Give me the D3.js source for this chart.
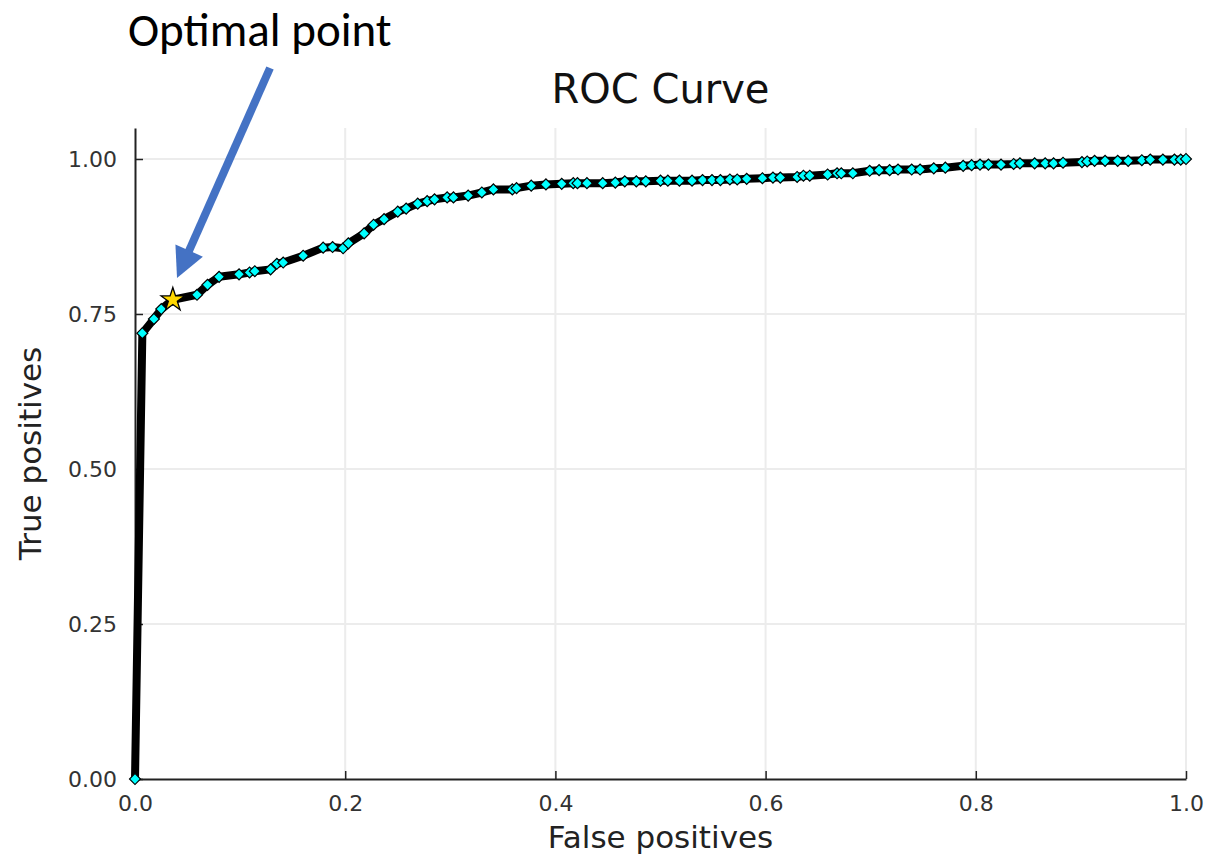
<html>
  <head>
    <title>ROC Curve</title>
    <script src="https://d3js.org/d3.v7.min.js"></script>
    <style>
      body { margin: 0; background: white; }
      svg { display: block; }
      .tick text { font-family: "DejaVu Sans", sans-serif; font-size: 22px; fill: #333; }
    </style>
  </head>
  <body>
    <svg width="1209" height="858"></svg>

    <script>
      // data
      var fpr = [0, 0.007, 0.018, 0.025, 0.036, 0.059, 0.069, 0.080, 0.099, 0.109, 0.114, 0.129, 0.135, 0.141,
        0.160, 0.179, 0.188, 0.198, 0.203, 0.218, 0.227, 0.237, 0.250, 0.258, 0.269, 0.278, 0.285, 0.297,
        0.303, 0.317, 0.330, 0.341, 0.359, 0.363, 0.377, 0.391, 0.406, 0.417, 0.421, 0.430, 0.445, 0.457,
        0.466, 0.477, 0.486, 0.500, 0.507, 0.518, 0.530, 0.540, 0.549, 0.557, 0.566, 0.573, 0.582, 0.597,
        0.607, 0.614, 0.630, 0.636, 0.642, 0.659, 0.668, 0.672, 0.683, 0.699, 0.708, 0.718, 0.726, 0.739,
        0.747, 0.760, 0.771, 0.788, 0.796, 0.804, 0.812, 0.824, 0.836, 0.842, 0.856, 0.866, 0.874, 0.883,
        0.901, 0.906, 0.913, 0.923, 0.935, 0.945, 0.958, 0.966, 0.978, 0.989, 0.995, 1.0];
      var tpr = [0, 0.719, 0.742, 0.758, 0.773, 0.781, 0.797, 0.810, 0.814, 0.817, 0.819, 0.822, 0.831, 0.833,
        0.844, 0.857, 0.858, 0.856, 0.864, 0.880, 0.894, 0.903, 0.915, 0.920, 0.928, 0.932, 0.935, 0.938,
        0.938, 0.941, 0.946, 0.951, 0.951, 0.953, 0.957, 0.959, 0.960, 0.961, 0.961, 0.961, 0.961, 0.962,
        0.964, 0.964, 0.964, 0.965, 0.965, 0.965, 0.965, 0.966, 0.966, 0.966, 0.967, 0.967, 0.968, 0.969,
        0.970, 0.970, 0.971, 0.973, 0.973, 0.975, 0.977, 0.977, 0.977, 0.981, 0.982, 0.982, 0.983, 0.983,
        0.983, 0.985, 0.986, 0.989, 0.990, 0.991, 0.991, 0.991, 0.992, 0.993, 0.993, 0.993, 0.993, 0.994,
        0.995, 0.996, 0.997, 0.997, 0.997, 0.997, 0.998, 0.999, 0.999, 0.999, 0.999, 1.0];
      var optimal = [0.036, 0.773];
      var xTicks = [0, 0.2, 0.4, 0.6, 0.8, 1.0];
      var yTicks = [0, 0.25, 0.5, 0.75, 1.0];

      var svg = d3.select("svg");
      var pLeft = 135, pRight = 1186, pTop = 128, pBottom = 779;

      var x = d3.scaleLinear().domain([0, 1]).range([pLeft, pRight]);
      var y = d3.scaleLinear().domain([0, 1.05]).range([pBottom, pTop]);

      // grid
      svg.append("g").selectAll("line").data(xTicks.slice(1)).enter().append("line")
        .attr("x1", d => x(d)).attr("x2", d => x(d))
        .attr("y1", pTop).attr("y2", pBottom)
        .attr("stroke", "#ececec").attr("stroke-width", 2);
      svg.append("g").selectAll("line").data(yTicks.slice(1)).enter().append("line")
        .attr("x1", pLeft).attr("x2", pRight)
        .attr("y1", d => y(d)).attr("y2", d => y(d))
        .attr("stroke", "#ececec").attr("stroke-width", 2);

      // axes (ticks point inward)
      var xAxis = d3.axisBottom(x).tickValues(xTicks).tickFormat(d3.format(".1f"))
        .tickSizeInner(-8).tickSizeOuter(0).tickPadding(16);
      var yAxis = d3.axisLeft(y).tickValues(yTicks).tickFormat(d3.format(".2f"))
        .tickSizeInner(-8).tickSizeOuter(0).tickPadding(18);

      var gx = svg.append("g").attr("transform", "translate(0," + pBottom + ")").call(xAxis);
      var gy = svg.append("g").attr("transform", "translate(" + pLeft + ",0)").call(yAxis);
      [gx, gy].forEach(function(g){
        g.attr("font-family", null).attr("font-size", null);
        g.select(".domain").attr("stroke", "#222").attr("stroke-width", 2);
        g.selectAll(".tick line").attr("stroke", "#222").attr("stroke-width", 1.5);
      });

      // curve
      var pts = fpr.map((d, i) => [d, tpr[i]]);
      var line = d3.line().x(d => x(d[0])).y(d => y(d[1]));
      svg.append("path").datum(pts).attr("d", line)
        .attr("fill", "none").attr("stroke", "#000").attr("stroke-width", 8)
        .attr("stroke-linejoin", "round");

      svg.append("g").selectAll("path").data(pts).enter().append("path")
        .attr("d", d3.symbol(d3.symbolSquare, 60))
        .attr("transform", d => "translate(" + x(d[0]) + "," + y(d[1]) + ") rotate(45)")
        .attr("fill", "#00ffff").attr("stroke", "#000").attr("stroke-width", 1.2);

      // optimal point star
      svg.append("path")
        .attr("d", d3.symbol(d3.symbolStar, 170))
        .attr("transform", "translate(" + x(optimal[0]) + "," + y(optimal[1]) + ")")
        .attr("fill", "#ffd700").attr("stroke", "#000").attr("stroke-width", 1.3);

      // title and labels
      svg.append("text").attr("x", (pLeft + pRight) / 2).attr("y", 103)
        .attr("text-anchor", "middle").attr("font-family", "DejaVu Sans")
        .attr("font-size", 40).attr("fill", "#111").text("ROC Curve");
      svg.append("text").attr("x", (pLeft + pRight) / 2).attr("y", 848)
        .attr("text-anchor", "middle").attr("font-family", "DejaVu Sans")
        .attr("font-size", 31).attr("fill", "#222").text("False positives");
      svg.append("text").attr("transform", "translate(41," + (pTop + pBottom) / 2 + ") rotate(-90)")
        .attr("text-anchor", "middle").attr("font-family", "DejaVu Sans")
        .attr("font-size", 31).attr("fill", "#222").text("True positives");

      // annotation
      svg.append("text").attr("x", 128).attr("y", 46)
        .attr("font-family", "Carlito, 'Open Sans', sans-serif")
        .attr("font-size", 47).attr("fill", "#000").text("Optimal point");

      var ax0 = 270, ay0 = 68, ax1 = 177, ay1 = 278;
      var dx = ax1 - ax0, dy = ay1 - ay0, len = Math.sqrt(dx * dx + dy * dy);
      var ux = dx / len, uy = dy / len, headLen = 30, headW = 15;
      var bx = ax1 - ux * headLen, by = ay1 - uy * headLen;
      svg.append("line").attr("x1", ax0).attr("y1", ay0).attr("x2", bx + ux * 2).attr("y2", by + uy * 2)
        .attr("stroke", "#4472c4").attr("stroke-width", 8);
      svg.append("path")
        .attr("d", "M" + ax1 + "," + ay1 +
          "L" + (bx - uy * headW) + "," + (by + ux * headW) +
          "L" + (bx + uy * headW) + "," + (by - ux * headW) + "Z")
        .attr("fill", "#4472c4");
    </script>
  </body>
</html>
